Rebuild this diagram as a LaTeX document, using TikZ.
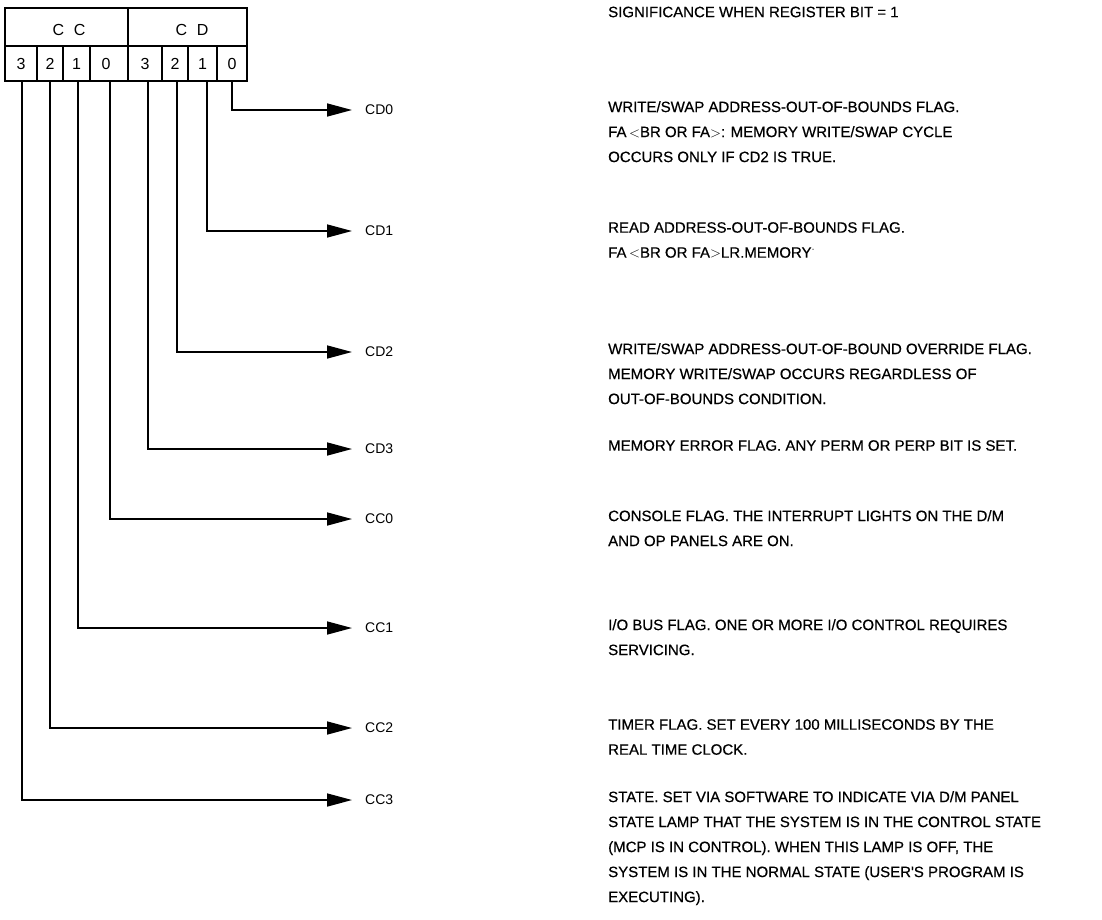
\documentclass[tikz,border=0pt]{standalone}
\usepackage{fontspec}
\setmainfont{Liberation Sans}
\newfontfamily\descfont{Liberation Sans}[FakeBold=0.5]
\usetikzlibrary{arrows.meta}
\tikzset{
  reg/.style={draw, line width=1.2pt},
  conn/.style={line width=1.6pt, -{Triangle[length=25pt,width=13pt]}},
  lbl/.style={anchor=west, inner sep=0pt, font=\fontsize{14}{14}\selectfont},
  desc/.style={anchor=north west, inner sep=0pt, align=left, font=\descfont\fontsize{15}{25}\selectfont},
  dig/.style={font=\fontsize{16}{16}\selectfont, inner sep=0pt}
}
\begin{document}
\begin{tikzpicture}[x=1pt,y=-1pt]
\useasboundingbox (0,0) rectangle (1102,919);
% register box
\draw[reg] (5,8) rectangle (247,81);
\draw[reg] (5,46) -- (247,46);
\draw[reg] (128,8) -- (128,81);
\foreach \x in {37,63,90,162,188,217} \draw[reg] (\x,46) -- (\x,81);
\node[dig] (hcc) at (69,30) {C\hspace{0.6em}C};
\node[dig] (hcd) at (192,30) {C\hspace{0.6em}D};
\node[dig] (b7) at (21,64) {3};
\node[dig] (b6) at (50,64) {2};
\node[dig] (b5) at (76.5,64) {1};
\node[dig] (b4) at (106,64) {0};
\node[dig] (b3) at (145,64) {3};
\node[dig] (b2) at (175,64) {2};
\node[dig] (b1) at (202.5,64) {1};
\node[dig] (b0) at (232,64) {0};
% bit taps
\coordinate (t7) at (22,81);
\coordinate (t6) at (50,81);
\coordinate (t5) at (78,81);
\coordinate (t4) at (110,81);
\coordinate (t3) at (148,81);
\coordinate (t2) at (177,81);
\coordinate (t1) at (207,81);
\coordinate (t0) at (232,81);
% heading
\node[desc, anchor=west] (head) at (608,12) {SIGNIFICANCE WHEN REGISTER BIT = 1};
% labels
\node[lbl] (cd0) at (365,110) {CD0};
\node[lbl] (cd1) at (365,231) {CD1};
\node[lbl] (cd2) at (365,352) {CD2};
\node[lbl] (cd3) at (365,449) {CD3};
\node[lbl] (cc0) at (365,519) {CC0};
\node[lbl] (cc1) at (365,628) {CC1};
\node[lbl] (cc2) at (365,728) {CC2};
\node[lbl] (cc3) at (365,800) {CC3};
% arrows
\foreach \t/\l in {t0/cd0,t1/cd1,t2/cd2,t3/cd3,t4/cc0,t5/cc1,t6/cc2,t7/cc3}
  \draw[conn] (\t) |- ([xshift=-13pt]\l.west);
% descriptions
\node[desc] (d0) at (608,101) {WRITE/SWAP ADDRESS-OUT-OF-BOUNDS FLAG.\\FA\,$<$BR OR FA$>$: MEMORY WRITE/SWAP CYCLE\\OCCURS ONLY IF CD2 IS TRUE.};
\node[desc] (d1) at (608,222) {READ ADDRESS-OUT-OF-BOUNDS FLAG.\\FA\,$<$BR OR FA$>$LR.MEMORY$^{\cdot}$};
\node[desc] (d2) at (608,343) {WRITE/SWAP ADDRESS-OUT-OF-BOUND OVERRIDE FLAG.\\MEMORY WRITE/SWAP OCCURS REGARDLESS OF\\OUT-OF-BOUNDS CONDITION.};
\node[desc] (d3) at (608,440) {MEMORY ERROR FLAG. ANY PERM OR PERP BIT IS SET.};
\node[desc] (d4) at (608,510) {CONSOLE FLAG. THE INTERRUPT LIGHTS ON THE D/M\\AND OP PANELS ARE ON.};
\node[desc] (d5) at (608,619) {I/O BUS FLAG. ONE OR MORE I/O CONTROL REQUIRES\\SERVICING.};
\node[desc] (d6) at (608,719) {TIMER FLAG. SET EVERY 100 MILLISECONDS BY THE\\REAL TIME CLOCK.};
\node[desc] (d7) at (608,791) {STATE. SET VIA SOFTWARE TO INDICATE VIA D/M PANEL\\STATE LAMP THAT THE SYSTEM IS IN THE CONTROL STATE\\(MCP IS IN CONTROL). WHEN THIS LAMP IS OFF, THE\\SYSTEM IS IN THE NORMAL STATE (USER'S PROGRAM IS\\EXECUTING).};
\end{tikzpicture}
\end{document}
